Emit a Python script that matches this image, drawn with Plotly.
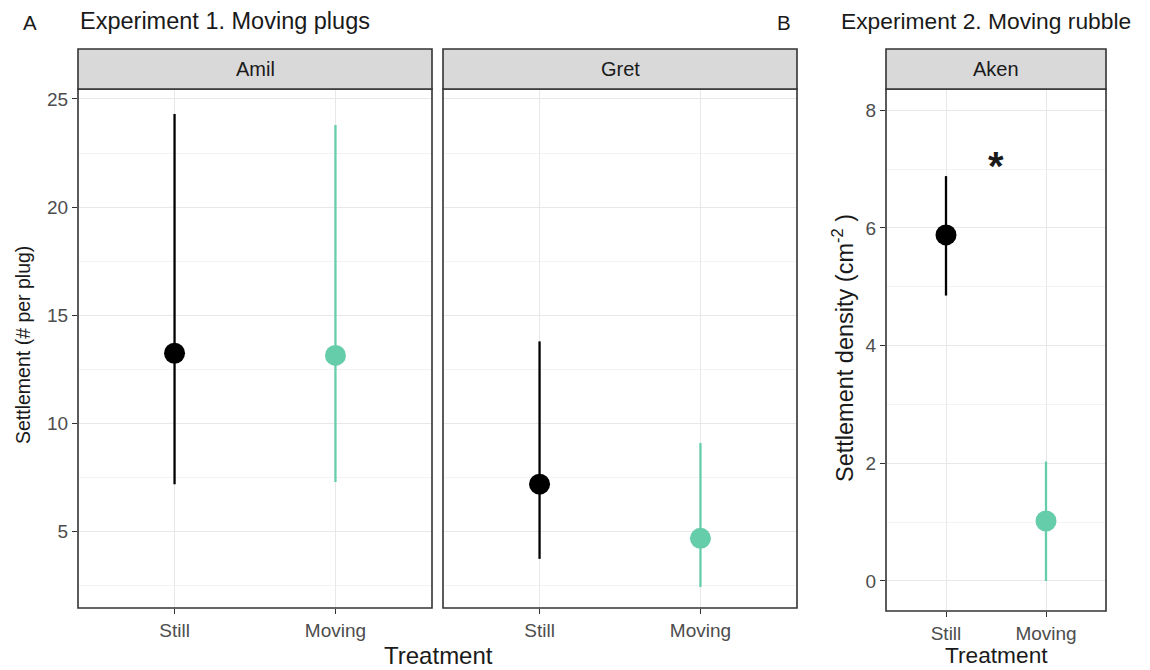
import plotly.graph_objects as go

# ---- data ----
treatments = ["Still", "Moving"]
colors = ["#000000", "#66cdaa"]

amil_mean = [13.25, 13.15]
amil_low = [7.2, 7.3]
amil_high = [24.3, 23.8]

gret_mean = [7.2, 4.7]
gret_low = [3.75, 2.45]
gret_high = [13.8, 9.1]

aken_mean = [5.88, 1.02]
aken_low = [4.85, 0.0]
aken_high = [6.88, 2.03]

W, H = 1150, 670
OFF = 8  # default page body margin
FW, FH = W - OFF, H - OFF
def px(x): return (x - OFF) / FW
def py(y): return 1 - (y - OFF) / FH

FONT = "Liberation Sans, Arial, sans-serif"
fig = go.Figure()

panels = [
    ("x", "y", amil_mean, amil_low, amil_high),
    ("x2", "y2", gret_mean, gret_low, gret_high),
    ("x3", "y3", aken_mean, aken_low, aken_high),
]
for xa, ya, m, lo, hi in panels:
    for i, t in enumerate(treatments):
        fig.add_trace(go.Scatter(
            x=[t], y=[m[i]], mode="markers", xaxis=xa, yaxis=ya,
            marker=dict(color=colors[i], size=21, line=dict(width=0)),
            error_y=dict(type="data", symmetric=False,
                         array=[hi[i] - m[i]], arrayminus=[m[i] - lo[i]],
                         width=0, thickness=2.3, color=colors[i]),
            showlegend=False, hoverinfo="skip"))

xdom = {"x": [px(78), px(432)], "x2": [px(443), px(797)], "x3": [px(886), px(1106)]}
ydomA = [py(608), py(89)]
ydomB = [py(611), py(89)]

grid_major = "#e8e8e8"
grid_minor = "#f3f3f3"
tickfont = dict(family=FONT, size=19, color="#4d4d4d")

def xaxis_cfg(dom, anchor):
    return dict(domain=dom, anchor=anchor, type="category",
                categoryorder="array", categoryarray=treatments,
                range=[-0.6, 1.6], showgrid=True, gridcolor=grid_major, gridwidth=1,
                ticks="outside", ticklen=5, tickcolor="#333333", tickwidth=1.3,
                tickfont=tickfont, showline=False, zeroline=False, fixedrange=True)

fig.update_layout(
    xaxis=xaxis_cfg(xdom["x"], "y"),
    xaxis2=xaxis_cfg(xdom["x2"], "y2"),
    xaxis3=xaxis_cfg(xdom["x3"], "y3"),
    yaxis=dict(domain=ydomA, anchor="x", range=[1.48, 25.46],
               tickvals=[5, 10, 15, 20, 25], showgrid=True, gridcolor=grid_major,
               minor=dict(tickvals=[2.5, 7.5, 12.5, 17.5, 22.5], showgrid=True,
                          gridcolor=grid_minor, ticks=""),
               ticks="outside", ticklen=5, tickcolor="#333333", tickwidth=1.3,
               tickfont=tickfont, zeroline=False),
    yaxis2=dict(domain=ydomA, anchor="x2", matches="y", range=[1.48, 25.46],
                tickvals=[5, 10, 15, 20, 25], showgrid=True, gridcolor=grid_major,
                minor=dict(tickvals=[2.5, 7.5, 12.5, 17.5, 22.5], showgrid=True,
                           gridcolor=grid_minor, ticks=""),
                showticklabels=False, ticks="", zeroline=False),
    yaxis3=dict(domain=ydomB, anchor="x3", range=[-0.51, 8.36],
                tickvals=[0, 2, 4, 6, 8], showgrid=True, gridcolor=grid_major,
                minor=dict(tickvals=[1, 3, 5, 7], showgrid=True,
                           gridcolor=grid_minor, ticks=""),
                ticks="outside", ticklen=5, tickcolor="#333333", tickwidth=1.3,
                tickfont=tickfont, zeroline=False),
    width=FW, height=FH, margin=dict(l=0, r=0, t=0, b=0),
    plot_bgcolor="white", paper_bgcolor="white",
    font=dict(family=FONT),
)

shapes = []
strips = [("Amil", 78, 432, 608), ("Gret", 443, 797, 608), ("Aken", 886, 1106, 611)]
for name, x0, x1, yb in strips:
    shapes.append(dict(type="rect", xref="paper", yref="paper",
                       x0=px(x0), x1=px(x1), y0=py(yb), y1=py(89),
                       line=dict(color="#333333", width=1.6), fillcolor="rgba(0,0,0,0)", layer="above"))
    shapes.append(dict(type="rect", xref="paper", yref="paper",
                       x0=px(x0), x1=px(x1), y0=py(89), y1=py(49),
                       line=dict(color="#333333", width=1.6), fillcolor="#d9d9d9"))
fig.update_layout(shapes=shapes)

dark = "#1a1a1a"

def label(text, x, y, size, angle=0, xanchor="center", color=dark):
    return dict(text=text, x=px(x), y=py(y), xref="paper", yref="paper",
                xanchor=xanchor, yanchor="middle", textangle=angle, showarrow=False,
                font=dict(family=FONT, size=size, color=color))

ann = [label(name, (x0 + x1) / 2, 69, 20) for name, x0, x1, yb in strips]
ann += [
    label("A", 30, 22, 20.5),
    label("Experiment 1. Moving plugs", 78, 21, 23.5, xanchor="left"),
    label("B", 784, 22, 20.5),
    label("Experiment 2. Moving rubble", 839, 21, 22.8, xanchor="left"),
    label("Settlement (# per plug)", 23, 345, 19.5, angle=-90),
    label("Settlement density (cm<sup>-2</sup> )", 843, 348, 23.5, angle=-90),
    label("Treatment", 438, 655, 24),
    label("Treatment", 996, 655, 22.7),
    dict(text="<b>*</b>", x=0.5, y=7.05, xref="x3", yref="y3", showarrow=False,
         xanchor="center", yanchor="middle",
         font=dict(family=FONT, size=40, color=dark)),
]
fig.update_layout(annotations=ann)

fig.write_html("out.html")
